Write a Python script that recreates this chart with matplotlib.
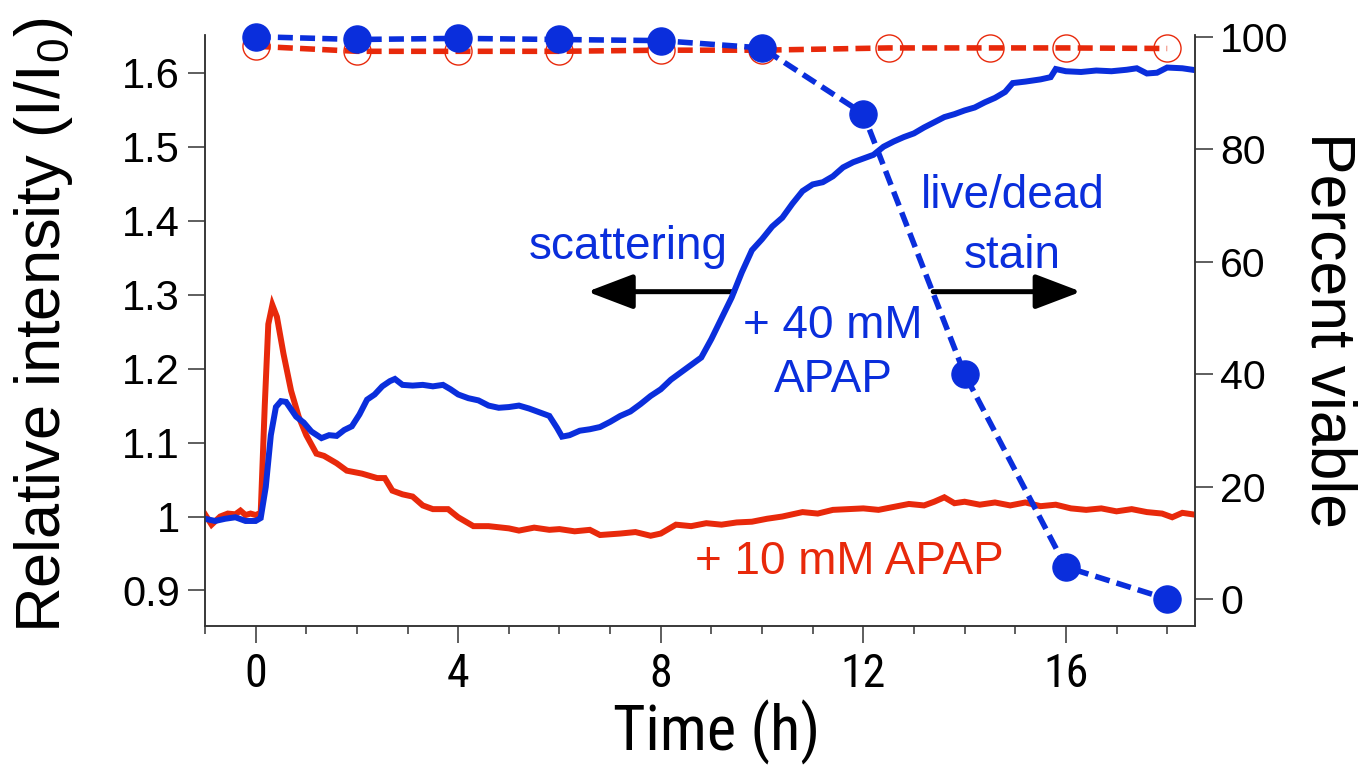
import matplotlib
matplotlib.use("Agg")
import matplotlib.pyplot as plt
from matplotlib import font_manager
from matplotlib.ticker import MultipleLocator, FixedLocator, FixedFormatter

FONT = "Liberation Sans"
_names = {f.name for f in font_manager.fontManager.ttflist}
NARROW = FONT
for cand in ["Liberation Sans Narrow", "Arial Narrow", "Roboto Condensed", "Open Sans Condensed"]:
    if cand in _names:
        NARROW = cand
        break
plt.rcParams["font.family"] = [FONT, "DejaVu Sans"]
plt.rcParams["mathtext.fontset"] = "custom"
plt.rcParams["mathtext.rm"] = FONT
plt.rcParams["mathtext.it"] = FONT

BLUE = "#0A2EDC"
RED = "#E8290B"

# ---------------- data ----------------
t_10mM = [-1.0, -0.87, -0.7, -0.55, -0.4, -0.3, -0.2, -0.1, 0.0, 0.1, 0.18, 0.25, 0.33,
          0.42, 0.55, 0.7, 0.85, 1.0, 1.2, 1.35, 1.6, 1.8, 2.1, 2.4, 2.55, 2.7, 2.9, 3.1,
          3.3, 3.5, 3.8, 4.0, 4.3, 4.6, 5.0, 5.2, 5.5, 5.8, 6.0, 6.3, 6.6, 6.8, 7.2, 7.5,
          7.8, 8.0, 8.3, 8.6, 8.9, 9.2, 9.5, 9.8, 10.1, 10.4, 10.8, 11.1, 11.4, 11.7, 12.0,
          12.3, 12.6, 12.9, 13.2, 13.4, 13.6, 13.8, 14.0, 14.3, 14.6, 14.9, 15.2, 15.5, 15.8,
          16.1, 16.4, 16.7, 17.0, 17.3, 17.6, 17.9, 18.1, 18.3, 18.5]
I_10mM = [1.003, 0.989, 1.000, 1.004, 1.003, 1.008, 1.002, 1.004, 1.002, 1.005, 1.15, 1.26, 1.286,
          1.27, 1.22, 1.17, 1.135, 1.11, 1.085, 1.082, 1.072, 1.062, 1.058, 1.052, 1.052, 1.035, 1.030, 1.027,
          1.015, 1.010, 1.010, 0.999, 0.987, 0.987, 0.984, 0.981, 0.985, 0.982, 0.983, 0.980, 0.982, 0.975, 0.977, 0.979,
          0.974, 0.977, 0.989, 0.987, 0.991, 0.989, 0.992, 0.993, 0.997, 1.000, 1.006, 1.004, 1.009, 1.010, 1.011,
          1.009, 1.013, 1.017, 1.015, 1.020, 1.026, 1.018, 1.020, 1.016, 1.019, 1.015, 1.019, 1.014, 1.016,
          1.011, 1.009, 1.011, 1.007, 1.010, 1.006, 1.004, 0.999, 1.005, 1.003]

t_40mM = [-1.0, -0.8, -0.6, -0.4, -0.2, 0.0, 0.1, 0.2, 0.3, 0.4, 0.5, 0.6, 0.7, 0.8, 0.95,
          1.1, 1.3, 1.45, 1.6, 1.75, 1.9, 2.05, 2.2, 2.35, 2.5, 2.65, 2.75, 2.9, 3.1, 3.3,
          3.5, 3.7, 3.85, 4.0, 4.2, 4.4, 4.6, 4.8, 5.0, 5.2, 5.4, 5.6, 5.8, 5.95, 6.05,
          6.2, 6.4, 6.6, 6.8, 7.0, 7.2, 7.4, 7.6, 7.8, 8.0, 8.2, 8.4, 8.6, 8.8, 9.0, 9.2,
          9.4, 9.6, 9.8, 10.0, 10.2, 10.4, 10.6, 10.8, 11.0, 11.2, 11.4, 11.6, 11.8, 12.0,
          12.2, 12.4, 12.6, 12.8, 13.0, 13.2, 13.4, 13.6, 13.8, 14.0, 14.2, 14.4, 14.6, 14.8,
          14.95, 15.2, 15.5, 15.7, 15.8, 16.0, 16.3, 16.6, 16.9, 17.2, 17.4, 17.6, 17.8, 18.0,
          18.3, 18.5]
I_40mM = [0.997, 0.994, 0.997, 0.999, 0.994, 0.994, 0.998, 1.04, 1.11, 1.148, 1.156, 1.155, 1.145, 1.135, 1.127,
          1.115, 1.106, 1.110, 1.109, 1.117, 1.122, 1.138, 1.158, 1.165, 1.176, 1.183, 1.186, 1.178, 1.177, 1.178,
          1.176, 1.178, 1.172, 1.165, 1.160, 1.157, 1.150, 1.147, 1.148, 1.150, 1.146, 1.141, 1.136, 1.120, 1.108,
          1.110, 1.116, 1.118, 1.121, 1.128, 1.136, 1.142, 1.152, 1.163, 1.172, 1.185, 1.195, 1.205, 1.215, 1.240, 1.268,
          1.296, 1.330, 1.360, 1.375, 1.392, 1.404, 1.423, 1.440, 1.449, 1.452, 1.460, 1.472, 1.479, 1.484,
          1.489, 1.500, 1.507, 1.513, 1.518, 1.526, 1.533, 1.540, 1.544, 1.549, 1.553, 1.560, 1.566, 1.574,
          1.586, 1.588, 1.591, 1.594, 1.605, 1.602, 1.601, 1.603, 1.602, 1.604, 1.606, 1.599, 1.600, 1.607,
          1.606, 1.604]

t_viab_10mM = [0, 2, 4, 6, 8, 10, 12.5, 14.5, 16, 18]
viab_10mM = [98.3, 97.4, 97.4, 97.4, 97.6, 97.6, 98.0, 98.0, 98.0, 97.9]
t_viab_40mM = [0, 2, 4, 6, 8, 10, 12, 14, 16, 18]
viab_40mM = [100.0, 99.5, 99.7, 99.5, 99.3, 98.0, 86.3, 40.0, 5.7, 0.0]

x_major = [0, 4, 8, 12, 16]
y_left_ticks = [0.9, 1.0, 1.1, 1.2, 1.3, 1.4, 1.5, 1.6]
y_left_labels = ["0.9", "1", "1.1", "1.2", "1.3", "1.4", "1.5", "1.6"]
y_right_ticks = [0, 20, 40, 60, 80, 100]

# ---------------- figure ----------------
fig = plt.figure(figsize=(13.61, 7.66), dpi=100)
ax = fig.add_axes([205 / 1361, 1 - 626 / 766, (1195 - 205) / 1361, (626 - 35) / 766])
ax2 = ax.twinx()

lw = 4.3
ax.plot(t_10mM, I_10mM, color=RED, lw=lw, solid_joinstyle="miter", zorder=3)
ax.plot(t_40mM, I_40mM, color=BLUE, lw=lw, solid_joinstyle="miter", zorder=4)

dash = (0, (2.7, 1.3))
ax2.plot(t_viab_10mM, viab_10mM, color=RED, lw=4.0, ls=dash, marker="o", ms=19.5,
         mfc="none", mec=RED, mew=1.0, clip_on=False, zorder=3)
ax2.plot(t_viab_40mM, viab_40mM, color=BLUE, lw=4.0, ls=dash, marker="o", ms=19.5,
         mfc=BLUE, mec=BLUE, clip_on=False, zorder=4)

ax.set_xlim(-1, 18.55)
ax.set_ylim(0.852, 1.651)
ax2.set_ylim(-4.8, 100.3)

for a in (ax, ax2):
    a.spines["top"].set_visible(False)
    for s in ("left", "right", "bottom"):
        a.spines[s].set_linewidth(1.1)
        a.spines[s].set_color("#333333")

ax.xaxis.set_major_locator(FixedLocator(x_major))
ax.xaxis.set_minor_locator(MultipleLocator(1))
ax.yaxis.set_major_locator(FixedLocator(y_left_ticks))
ax.yaxis.set_major_formatter(FixedFormatter(y_left_labels))
ax2.yaxis.set_major_locator(FixedLocator(y_right_ticks))

ax.tick_params(axis="x", which="major", direction="out", length=12, width=1.1, pad=7,
               labelsize=33 if NARROW != FONT else 31, color="#333333")
ax.tick_params(axis="x", which="minor", direction="out", length=6, width=1.1, color="#333333")
ax.tick_params(axis="y", direction="out", length=12, width=1.1, pad=6, labelsize=30,
               color="#333333")
ax2.tick_params(axis="y", direction="out", length=13, width=1.1, pad=5, labelsize=29.5,
                color="#333333")
for lab in ax.get_xticklabels():
    lab.set_family([NARROW, "DejaVu Sans"])

ax.set_xlabel("Time (h)", fontsize=45 if NARROW != FONT else 43,
              family=[NARROW, "DejaVu Sans"])
ax.xaxis.set_label_coords(0.517, -0.125)
ax.xaxis.label.set_va("top")
ax.set_ylabel("Relative intensity (I/I$_0$)", fontsize=45.5)
ax.yaxis.set_label_coords(-0.131, 0.508)
ax2.set_ylabel("Percent viable", fontsize=45, rotation=270, labelpad=50)

# ---------------- annotations ----------------
tsz = 33
ax.text(7.35, 1.365, "scattering", color=BLUE, fontsize=tsz, ha="center", va="center")
ax.text(14.95, 1.434, "live/dead", color=BLUE, fontsize=tsz, ha="center", va="center")
ax.text(14.95, 1.352, "stain", color=BLUE, fontsize=tsz, ha="center", va="center")
ax.text(11.4, 1.257, "+ 40 mM", color=BLUE, fontsize=tsz, ha="center", va="center")
ax.text(11.4, 1.185, "APAP", color=BLUE, fontsize=tsz, ha="center", va="center")
ax.text(11.72, 0.938, "+ 10 mM APAP", color=RED, fontsize=tsz, ha="center", va="center")

arrow_kw = dict(arrowstyle="-|>,head_length=1.0,head_width=0.38", lw=3.6, color="black",
                mutation_scale=28, shrinkA=0, shrinkB=0)
ax.annotate("", xy=(6.55, 1.304), xytext=(9.45, 1.304), arrowprops=arrow_kw, zorder=2)
ax.annotate("", xy=(16.3, 1.304), xytext=(13.38, 1.304), arrowprops=arrow_kw, zorder=2)

fig.savefig("out.png", dpi=100)
